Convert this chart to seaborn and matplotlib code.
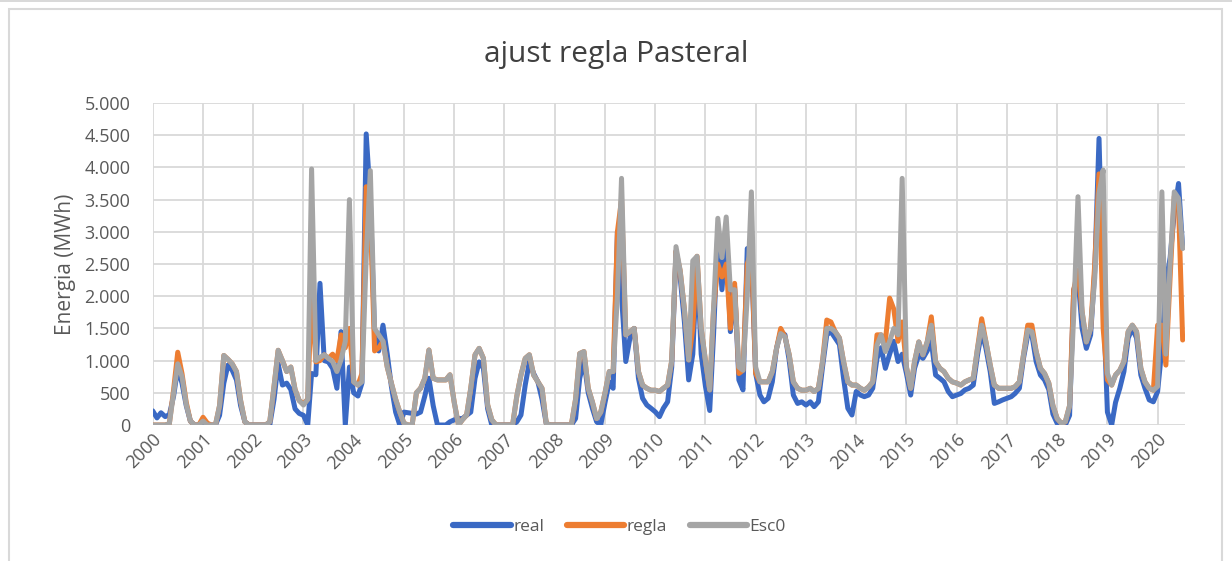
import matplotlib
matplotlib.use("Agg")
import matplotlib.pyplot as plt
import matplotlib.dates as mdates
from matplotlib.patches import Rectangle
from matplotlib.ticker import FuncFormatter
import numpy as np
import pandas as pd
import seaborn as sns

# ---------------- data (monthly, Jan 2000 - Jul 2020) ----------------
series_names = ["real", "regla", "Esc0"]
series_colors = ["#3A69C4", "#ED7D31", "#A5A5A5"]
title_text = "ajust regla Pasteral"
ylabel_text = "Energia (MWh)"

real = [
    220, 110, 190, 130, 160, 450, 880, 650, 300, 60, 0, 0,            # 2000
    20, 0, 0, 0, 150, 650, 930, 850, 700, 300, 50, 0,                 # 2001
    0, 0, 0, 0, 0, 400, 950, 620, 650, 550, 250, 180,                 # 2002
    150, 0, 800, 780, 2200, 1000, 980, 880, 570, 1450, 0, 900,        # 2003
    500, 450, 650, 4520, 3500, 1400, 1150, 1550, 1100, 600, 200, 0,   # 2004
    200, 190, 180, 170, 200, 450, 725, 300, 0, 0, 0, 50,              # 2005
    80, 100, 100, 150, 200, 725, 980, 880, 250, 0, 0, 0,              # 2006
    0, 0, 0, 50, 155, 620, 980, 800, 670, 400, 20, 0,                 # 2007
    0, 0, 0, 0, 0, 100, 725, 1000, 500, 260, 50, 0,                   # 2008
    350, 670, 570, 3000, 2000, 985, 1350, 1500, 725, 415, 310, 260,   # 2009
    205, 130, 260, 360, 900, 2700, 2300, 1600, 700, 1100, 2550, 1100, # 2010
    600, 225, 1400, 3000, 2100, 3000, 1450, 2150, 700, 545, 2740, 2600,  # 2011
    800, 465, 360, 415, 670, 1190, 1450, 1400, 1000, 465, 335, 360,   # 2012
    310, 360, 285, 360, 900, 1400, 1450, 1350, 1250, 725, 260, 155,   # 2013
    520, 465, 440, 465, 570, 1035, 1200, 880, 1100, 1300, 985, 1100,  # 2014
    800, 465, 880, 1090, 1035, 1150, 1300, 776, 725, 670, 520, 440,   # 2015
    465, 490, 545, 570, 620, 1090, 1450, 1190, 830, 335, 360, 390,    # 2016
    415, 440, 490, 570, 1035, 1400, 1400, 985, 776, 700, 550, 170,    # 2017
    25, 25, 0, 150, 2100, 2300, 1500, 1190, 1400, 2400, 4450, 2000,   # 2018
    200, 0, 350, 570, 830, 1350, 1500, 1350, 776, 570, 390, 360,      # 2019
    520, 1200, 2200, 2600, 3300, 3750, 2750,                          # 2020
]

regla = [
    0, 0, 0, 0, 20, 550, 1130, 800, 350, 60, 0, 0,                    # 2000
    120, 30, 0, 0, 300, 1080, 1020, 950, 830, 380, 50, 0,             # 2001
    0, 0, 0, 0, 50, 600, 1160, 1000, 830, 900, 550, 380,              # 2002
    330, 400, 2100, 980, 1000, 1090, 1035, 1100, 1000, 1400, 1200, 1500,  # 2003
    670, 620, 800, 3700, 3300, 1150, 1200, 1300, 900, 650, 400, 200,  # 2004
    25, 0, 0, 500, 570, 725, 1165, 725, 700, 700, 700, 780,           # 2005
    350, 0, 80, 155, 570, 1090, 1190, 1035, 310, 80, 0, 0,            # 2006
    0, 0, 0, 450, 776, 1035, 1090, 776, 670, 570, 25, 0,              # 2007
    0, 0, 0, 0, 0, 400, 1110, 1140, 570, 360, 100, 200,               # 2008
    500, 830, 830, 3000, 3500, 1400, 1450, 1500, 830, 620, 570, 540,  # 2009
    540, 520, 570, 620, 1000, 2700, 2400, 1800, 1010, 1500, 2620, 1500,  # 2010
    1000, 545, 1800, 2500, 2300, 2500, 1500, 2200, 800, 850, 2500, 2700,  # 2011
    800, 670, 670, 670, 830, 1190, 1500, 1370, 1090, 670, 570, 540,   # 2012
    540, 570, 520, 570, 985, 1630, 1600, 1450, 1350, 985, 670, 620,   # 2013
    620, 570, 540, 590, 670, 1400, 1400, 1300, 1970, 1800, 1300, 1600,  # 2014
    900, 570, 985, 1290, 1090, 1290, 1680, 985, 880, 830, 725, 670,   # 2015
    650, 620, 670, 700, 725, 1190, 1650, 1290, 930, 620, 570, 570,    # 2016
    570, 570, 595, 670, 1090, 1550, 1550, 1140, 880, 800, 650, 300,   # 2017
    100, 25, 50, 300, 2100, 2400, 1760, 1290, 1500, 2500, 3900, 1500, # 2018
    700, 620, 776, 850, 985, 1450, 1550, 1450, 880, 670, 570, 540,    # 2019
    1550, 1550, 930, 2300, 3550, 3400, 1320,                          # 2020
]

esc0 = [
    0, 0, 0, 0, 20, 500, 950, 750, 320, 60, 0, 0,                     # 2000
    60, 0, 0, 0, 300, 1080, 1020, 950, 830, 380, 50, 0,               # 2001
    0, 0, 0, 0, 50, 600, 1160, 1000, 830, 900, 550, 380,              # 2002
    310, 400, 3975, 1000, 1050, 1090, 1035, 985, 830, 1010, 1300, 3500,  # 2003
    670, 620, 670, 2600, 3950, 1500, 1400, 1300, 900, 650, 400, 200,  # 2004
    25, 0, 0, 500, 570, 725, 1165, 725, 700, 700, 700, 780,           # 2005
    350, 0, 80, 155, 570, 1090, 1190, 1035, 310, 80, 0, 0,            # 2006
    0, 0, 0, 450, 776, 1035, 1090, 776, 670, 570, 25, 0,              # 2007
    0, 0, 0, 0, 0, 400, 1110, 1140, 570, 360, 100, 200,               # 2008
    500, 830, 830, 2000, 3830, 1400, 1450, 1500, 830, 620, 570, 540,  # 2009
    540, 520, 570, 620, 1000, 2770, 2400, 1800, 1010, 2550, 2620, 1500,  # 2010
    1000, 545, 1800, 3210, 2600, 3230, 2100, 2100, 900, 850, 2000, 3620,  # 2011
    900, 670, 670, 670, 830, 1190, 1420, 1370, 1090, 670, 570, 540,   # 2012
    540, 570, 520, 570, 985, 1500, 1500, 1450, 1350, 985, 670, 620,   # 2013
    620, 570, 540, 590, 670, 1240, 1400, 1140, 1300, 1500, 1400, 3830,  # 2014
    900, 570, 985, 1290, 1090, 1290, 1550, 985, 880, 830, 725, 670,   # 2015
    650, 620, 670, 700, 725, 1190, 1550, 1290, 930, 620, 570, 570,    # 2016
    570, 570, 595, 670, 1090, 1475, 1450, 1140, 880, 800, 650, 300,   # 2017
    100, 25, 50, 300, 1700, 3545, 1760, 1290, 1500, 2280, 3600, 3960, # 2018
    800, 620, 776, 850, 985, 1450, 1550, 1450, 880, 670, 570, 540,    # 2019
    600, 3620, 1100, 2500, 3620, 3520, 2740,                          # 2020
]

yticks = [0, 500, 1000, 1500, 2000, 2500, 3000, 3500, 4000, 4500, 5000]

# ---------------- build long table ----------------
dates = pd.date_range("2000-01-01", periods=len(real), freq="MS")
df = pd.concat(
    [pd.DataFrame({"fecha": dates, "valor": vals, "serie": name})
     for name, vals in zip(series_names, [real, regla, esc0])],
    ignore_index=True,
)

# ---------------- style ----------------
sns.set_theme(style="white")
plt.rcParams["font.family"] = ["Open Sans", "DejaVu Sans"]
text_color = "#595959"
title_color = "#404040"
grid_color = "#D9D9D9"

fig = plt.figure(figsize=(12.32, 5.61), dpi=100)
ax = fig.add_axes([152.7 / 1232, 1 - 425 / 561, (1185 - 152.7) / 1232, (425 - 103) / 561])

sns.lineplot(
    data=df, x="fecha", y="valor", hue="serie", hue_order=series_names,
    palette=dict(zip(series_names, series_colors)), estimator=None,
    linewidth=3.6, ax=ax, legend=True,
)

ax.set_ylim(yticks[0], yticks[-1])
ax.set_xlim(pd.Timestamp("2000-01-01"), pd.Timestamp("2020-07-18"))
ax.set_yticks(yticks)
ax.yaxis.set_major_formatter(FuncFormatter(lambda v, p: f"{int(round(v)):,}".replace(",", ".")))
ax.xaxis.set_major_locator(mdates.YearLocator())
ax.xaxis.set_major_formatter(mdates.DateFormatter("%Y"))

ax.grid(True, color=grid_color, linewidth=1.3)
ax.set_axisbelow(True)
for s in ax.spines.values():
    s.set_visible(False)
ax.tick_params(axis="both", length=0, colors=text_color, labelsize=13)
ax.tick_params(axis="y", pad=16)
ax.tick_params(axis="x", pad=4)
for lab in ax.get_xticklabels():
    lab.set_rotation(45)
    lab.set_ha("right")
    lab.set_va("top")
    lab.set_rotation_mode("anchor")

ax.set_xlabel("")
ax.set_ylabel(ylabel_text, fontsize=15, color=text_color, labelpad=6)

fig.text(0.5, 0.902, title_text, ha="center", va="center", fontsize=21.5, color=title_color)

handles, labels = ax.get_legend_handles_labels()
leg = ax.legend(
    handles, labels, loc="center", bbox_to_anchor=(0.503, 0.061),
    bbox_transform=fig.transFigure, ncol=3, frameon=False,
    handlelength=3.3, handletextpad=0.15, columnspacing=1.3, fontsize=12.5,
)
for t in leg.get_texts():
    t.set_color(text_color)
for l in leg.get_lines():
    l.set_linewidth(4.5)

# outer chart border
fig.patches.append(Rectangle((9 / 1232, -0.02), (1222 - 9) / 1232, (561 - 9) / 561 + 0.02,
                             transform=fig.transFigure, fill=False,
                             edgecolor=grid_color, linewidth=1.5))
fig.patches.append(Rectangle((0, 1 - 2 / 561), 1, 2 / 561, transform=fig.transFigure,
                             facecolor=grid_color, edgecolor="none"))

fig.savefig("out.png", dpi=100)
